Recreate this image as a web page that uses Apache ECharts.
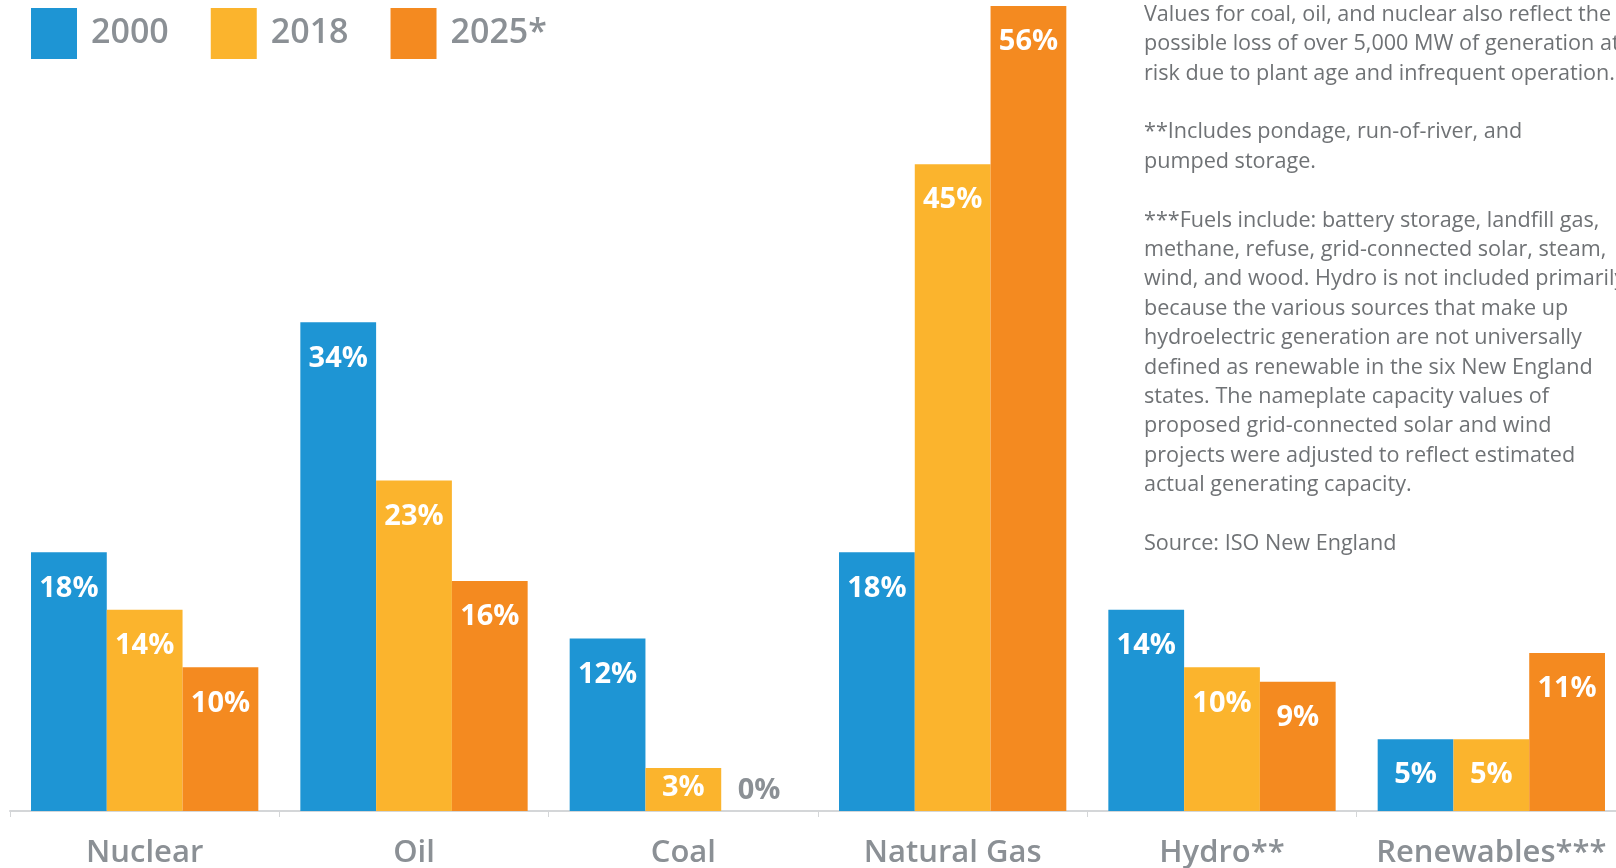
<!DOCTYPE html>
<html>
<head>
<meta charset="utf-8">
<title>New England generating capacity by fuel type</title>
<script src="https://cdn.jsdelivr.net/npm/echarts@6/dist/echarts.min.js"></script>
<style>
  html, body { margin: 0; padding: 0; background: #ffffff; }
  #chart { width: 1616px; height: 868px; }
</style>
</head>
<body>
<div id="chart"></div>
<script>
// Share of capacity by fuel type (%)
const categories = ['Nuclear', 'Oil', 'Coal', 'Natural Gas', 'Hydro**', 'Renewables***'];
const seriesNames = ['2000', '2018', '2025*'];
const values2000 = [18, 34, 12, 18, 14, 5];
const values2018 = [14, 23, 3, 45, 10, 5];
const values2025 = [10, 16, 0, 56, 9, 11];
const colors = ['#1e95d4', '#fbb42d', '#f48a20'];

const notes = [
  'Values for coal, oil, and nuclear also reflect the',
  'possible loss of over 5,000 MW of generation at',
  'risk due to plant age and infrequent operation.',
  '',
  '**Includes pondage, run-of-river, and',
  'pumped storage.',
  '',
  '***Fuels include: battery storage, landfill gas,',
  'methane, refuse, grid-connected solar, steam,',
  'wind, and wood. Hydro is not included primarily',
  'because the various sources that make up',
  'hydroelectric generation are not universally',
  'defined as renewable in the six New England',
  'states. The nameplate capacity values of',
  'proposed grid-connected solar and wind',
  'projects were adjusted to reflect estimated',
  'actual generating capacity.',
  '',
  'Source: ISO New England'
];

const labelFont = '"Open Sans", "DejaVu Sans", sans-serif';
const gray = '#8b9095';

// Zero-height bars get their label above the baseline in gray;
// very short bars keep the label tucked close to the top edge.
function makeData(vals) {
  return vals.map(v => {
    if (v === 0) return { value: v, label: { position: 'top', distance: 5, color: gray } };
    if (v < 4) return { value: v, label: { distance: 5 } };
    return v;
  });
}

function makeSeries(name, vals, color) {
  return {
    name: name,
    type: 'bar',
    data: makeData(vals),
    barGap: '0%',
    barCategoryGap: '15.6%',
    itemStyle: { color: color },
    label: {
      show: true,
      position: 'insideTop',
      distance: 21,
      formatter: '{c}%',
      color: '#ffffff',
      fontFamily: labelFont,
      fontWeight: 'bold',
      fontSize: 29,
      lineHeight: 30
    }
  };
}

const chart = echarts.init(document.getElementById('chart'), null, { renderer: 'canvas' });

chart.setOption({
  animation: false,
  backgroundColor: '#ffffff',
  color: colors,
  legend: {
    left: 26,
    top: 3,
    icon: 'rect',
    itemWidth: 46,
    itemHeight: 51,
    itemGap: 42,
    data: seriesNames,
    textStyle: {
      color: gray,
      fontFamily: labelFont,
      fontWeight: 600,
      fontSize: 34,
      padding: [0, 0, 0, 9]
    }
  },
  grid: {
    left: 10,
    right: -10,
    top: 6,
    bottom: 57,
    containLabel: false,
    outerBoundsMode: 'none'
  },
  xAxis: {
    type: 'category',
    data: categories,
    axisLine: { show: true, lineStyle: { color: '#d4d6d8', width: 2 } },
    axisTick: { show: true, interval: 0, length: 6, lineStyle: { color: '#d4d6d8', width: 1 } },
    axisLabel: {
      interval: 0,
      hideOverlap: false,
      color: gray,
      fontFamily: labelFont,
      fontWeight: 600,
      fontSize: 31,
      margin: 27
    }
  },
  yAxis: {
    type: 'value',
    min: 0,
    max: 56,
    show: false,
    splitLine: { show: false }
  },
  graphic: [{
    type: 'text',
    left: 1144,
    top: 0,
    style: {
      text: notes.join('\n'),
      fill: '#6f7275',
      font: '21.6px "Open Sans", sans-serif',
      lineHeight: 29.4
    }
  }],
  series: [
    makeSeries(seriesNames[0], values2000, colors[0]),
    makeSeries(seriesNames[1], values2018, colors[1]),
    makeSeries(seriesNames[2], values2025, colors[2])
  ]
});
</script>
</body>
</html>
